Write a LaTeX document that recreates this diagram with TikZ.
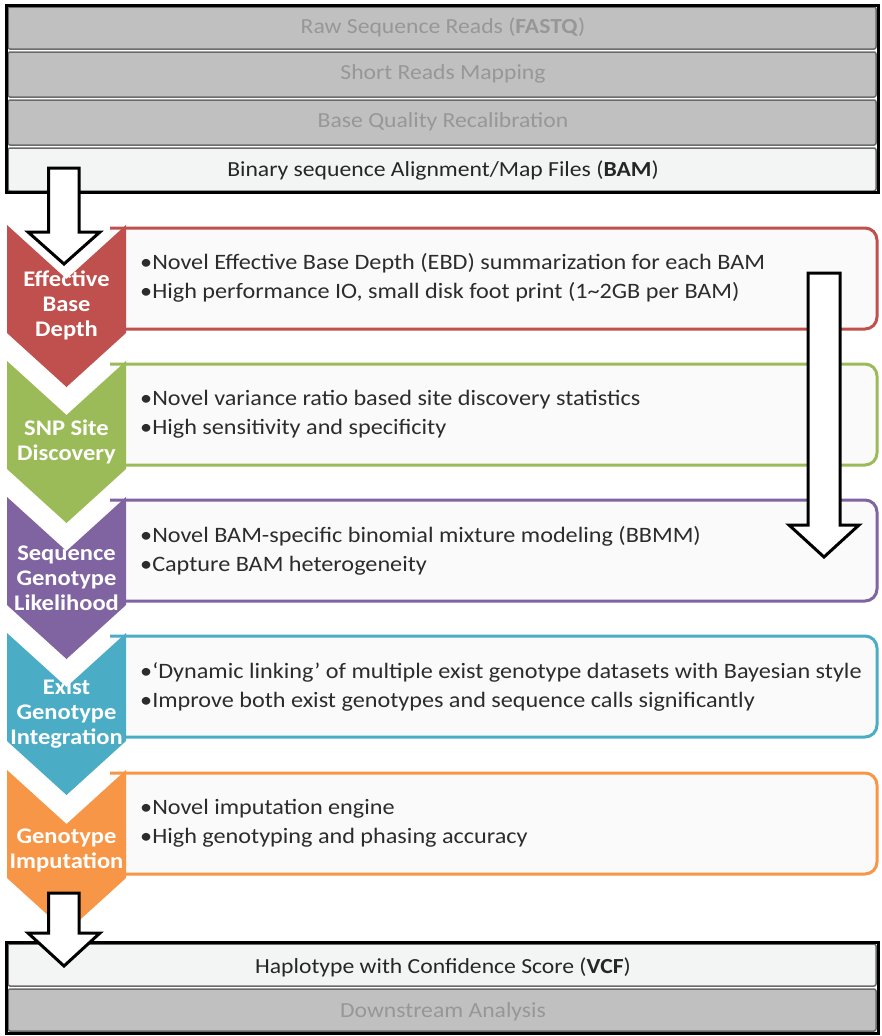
\documentclass[tikz,border=0pt]{standalone}
\usepackage{fontspec}
\setmainfont{Carlito}[FakeStretch=1.1]
\definecolor{cred}{HTML}{C0504D}
\definecolor{cgreen}{HTML}{9BBB59}
\definecolor{cpurple}{HTML}{8064A2}
\definecolor{cblue}{HTML}{4BACC6}
\definecolor{corange}{HTML}{F79646}
\definecolor{rowgray}{HTML}{C0C0C0}
\definecolor{rowlight}{HTML}{F3F4F4}
\definecolor{rowedge}{HTML}{6A6A6A}
\definecolor{graytext}{HTML}{979797}
\definecolor{bodytext}{HTML}{2C2C2C}
\definecolor{boxfill}{HTML}{FAFAFA}
\begin{document}
\begin{tikzpicture}[x=1pt,y=-1pt,
  row/.style={draw=rowedge, line width=1.5pt, rounded corners=2pt},
  rowtext/.style={font=\fontsize{21.5}{24}\selectfont, inner sep=0pt},
  frame/.style={draw=black, line width=3pt},
  infobox/.style={line width=3pt, fill=boxfill},
  infotext/.style={font=\fontsize{22}{29}\selectfont, text=bodytext, align=left, anchor=west, inner sep=0pt},
  chevlabel/.style={font=\bfseries\fontsize{22.3}{25}\selectfont, text=white, align=center, inner sep=0pt},
  blockarrow/.style={draw=black, line width=3pt, fill=white, line join=miter}
]
\useasboundingbox (0,0) rectangle (881,1036);
\fill[white] (0,0) rectangle (881,1036);

% ---------- top block ----------
\draw[row, fill=rowgray] (8,7) rectangle (876,49);
\draw[row, fill=rowgray] (8,52) rectangle (876,97);
\draw[row, fill=rowgray] (8,100) rectangle (876,145);
\draw[row, draw=rowedge, fill=rowlight] (8,148) rectangle (876,191);
\draw[frame] (6,5) rectangle (878,192);
\node[rowtext, text=graytext] (raw) at (443,27) {Raw Sequence Reads (\textbf{FASTQ})};
\node[rowtext, text=graytext] (map) at (443,74) {Short Reads Mapping};
\node[rowtext, text=graytext] (bqr) at (443,122) {Base Quality Recalibration};
\node[rowtext, text=black!85] (bam) at (443,170) {Binary sequence Alignment/Map Files (\textbf{BAM})};

% ---------- stage boxes ----------
\foreach \t/\c in {225/cred, 361/cgreen, 497/cpurple, 633/cblue, 770/corange}{
  \draw[infobox, draw=\c, rounded corners=12pt] (110,\t+3) -- (877,\t+3) -- (877,\t+104) -- (110,\t+104);
}
\foreach \t/\c in {225/cred, 361/cgreen, 497/cpurple, 633/cblue, 770/corange}{
  \fill[\c] (7,\t) -- (66.5,\t+54) -- (126,\t) -- (126,\t+108) -- (66.5,\t+162) -- (7,\t+108) -- cycle;
}

\node[chevlabel] (ebd) at (66.5,305) {Effective\\Base\\Depth};
\node[chevlabel] (snp) at (66.5,442) {SNP Site\\Discovery};
\node[chevlabel] (sgl) at (66.5,578) {Sequence\\Genotype\\Likelihood};
\node[chevlabel] (egi) at (66.5,714) {Exist\\Genotype\\Integration};
\node[chevlabel] (gim) at (66.5,850) {Genotype\\Imputation};

\node[infotext] (t1) at (140,278) {•Novel Effective Base Depth (EBD) summarization for each BAM\\•High performance IO, small disk foot print (1\textasciitilde 2GB per BAM)};
\node[infotext] (t2) at (140,414) {•Novel variance ratio based site discovery statistics\\•High sensitivity and specificity};
\node[infotext] (t3) at (140,551) {•Novel BAM-specific binomial mixture modeling (BBMM)\\•Capture BAM heterogeneity};
\node[infotext] (t4) at (140,687) {•‘Dynamic linking’ of multiple exist genotype datasets with Bayesian style\\•Improve both exist genotypes and sequence calls significantly};
\node[infotext] (t5) at (140,823) {•Novel imputation engine\\•High genotyping and phasing accuracy};

% ---------- bottom block ----------
\draw[row, draw=rowedge, fill=rowlight] (8,944) rectangle (876,986);
\draw[row, fill=rowgray] (8,989) rectangle (876,1031);
\draw[frame] (6,942) rectangle (878,1033);
\node[rowtext, text=black!85] (vcf) at (443,967) {Haplotype with Confidence Score (\textbf{VCF})};
\node[rowtext, text=graytext] (down) at (443,1012) {Downstream Analysis};

% ---------- block arrows ----------
\draw[blockarrow] (48.5,168) -- (79,168) -- (79,232) -- (100,232) -- (64,264) -- (28,232) -- (48.5,232) -- cycle;
\draw[blockarrow] (808,273) -- (840,273) -- (840,525) -- (859,525) -- (824,557) -- (789,525) -- (808,525) -- cycle;
\draw[blockarrow] (48.5,893) -- (79,893) -- (79,933) -- (100,933) -- (64,966) -- (28,933) -- (48.5,933) -- cycle;
\end{tikzpicture}
\end{document}
